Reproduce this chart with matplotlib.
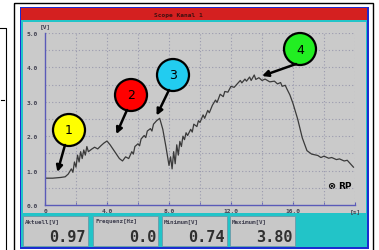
import matplotlib.pyplot as plt
from matplotlib.patches import Rectangle, Circle

# signal
t = [0.0, 0.5, 1.0, 1.3, 1.5, 1.7, 1.8, 1.9, 2.0, 2.1, 2.2, 2.3, 2.4, 2.5, 2.6, 2.7,
     2.8, 3.0, 3.2, 3.4, 3.6, 3.8, 4.0, 4.2, 4.5, 4.8, 5.0, 5.2, 5.4, 5.6, 5.7, 5.8,
     6.0, 6.1, 6.2, 6.4, 6.5, 6.6, 6.8, 6.9, 7.0, 7.2, 7.4, 7.6, 7.8, 8.0, 8.1, 8.2,
     8.3, 8.4, 8.5, 8.6, 8.7, 8.8, 8.9, 9.0, 9.1, 9.2, 9.4, 9.5, 9.6, 9.8, 9.9, 10.0,
     10.2, 10.3, 10.5, 10.6, 10.8, 11.0, 11.1, 11.3, 11.5, 11.6, 11.8, 12.0, 12.2,
     12.4, 12.6, 12.7, 12.9, 13.0, 13.2, 13.3, 13.5, 13.6, 13.8, 14.0, 14.2, 14.5,
     14.8, 15.0, 15.2, 15.3, 15.5, 15.6, 15.8, 16.0, 16.3, 16.6, 16.9, 17.2, 17.6,
     17.8, 18.0, 18.3, 18.5, 18.8, 19.0, 19.3, 19.5, 19.7, 19.9]
volt = [0.78, 0.78, 0.80, 0.82, 0.90, 1.05, 0.95, 1.25, 1.10, 1.45, 1.25, 1.55, 1.35, 1.60, 1.45, 1.70,
        1.55, 1.62, 1.68, 1.63, 1.72, 1.80, 1.86, 1.75, 1.55, 1.35, 1.28, 1.40, 1.35, 1.55, 1.48, 1.70,
        1.78, 1.72, 1.92, 2.02, 1.96, 2.15, 2.22, 2.15, 2.35, 2.45, 2.52, 2.20, 1.70, 1.15, 1.40, 1.05,
        1.55, 1.20, 1.75, 1.45, 1.85, 1.70, 2.00, 1.90, 2.10, 2.02, 2.20, 2.12, 2.35, 2.28, 2.45, 2.40,
        2.62, 2.52, 2.75, 2.68, 2.90, 3.05, 2.98, 3.22, 3.15, 3.30, 3.28, 3.45, 3.42,
        3.52, 3.62, 3.55, 3.66, 3.60, 3.72, 3.62, 3.78, 3.65, 3.70, 3.62, 3.66, 3.58,
        3.60, 3.52, 3.56, 3.45, 3.48, 3.38, 3.20, 2.95, 2.50, 1.95, 1.58, 1.48, 1.44,
        1.38, 1.42, 1.36, 1.38, 1.32, 1.34, 1.28, 1.30, 1.20, 1.10]

x_ticks = [0, 4, 8, 12, 16, 20]
x_labels = ['0', '4.0', '8.0', '12.0', '16.0', '[s]']
y_ticks = [0, 1, 2, 3, 4, 5]
y_labels = ['0.0', '1.0', '2.0', '3.0', '4.0', '5.0']

# callouts: number, colour, target (t, V)
call_num = ['1', '2', '3', '4']
call_col = ['#ffff00', '#ff0000', '#22ccf0', '#22ee22']
call_t = [0.8, 4.6, 7.2, 14.0]
call_v = [0.96, 2.06, 2.6, 3.75]
call_xy = [(69, 131), (131, 96), (173, 76), (300, 50)]

box_labels = ['Aktuell[V]', 'Frequenz[Hz]', 'Minimum[V]', 'Maximum[V]']
box_values = ['0.97', '0.0', '0.74', '3.80']
box_x = [23, 93, 162, 230]

W, H = 379, 251
fig = plt.figure(figsize=(W / 100, H / 100), dpi=100)
fig.patch.set_facecolor('white')

bg = fig.add_axes([0, 0, 1, 1], zorder=0)
bg.set_xlim(0, W)
bg.set_ylim(H, 0)
bg.axis('off')

# left neighbour frame
bg.plot([0, 6, 6], [29, 29, 251], color='black', lw=0.8)
bg.plot([1, 4], [101, 101], color='black', lw=0.8)

# window frame
bg.add_patch(Rectangle((14, 4), 359, 250, fill=False, ec='black', lw=1))
bg.add_patch(Rectangle((19.5, 8), 349, 242, fc='#1c2cd0', ec='none'))
bg.add_patch(Rectangle((21, 9), 346, 12, fc='#d42020', ec='none'))
bg.text(178, 15.5, 'Scope Kanal 1', fontsize=4.5, color='#401010', ha='center',
        va='center', family='DejaVu Sans Mono', fontweight='bold')
bg.add_patch(Rectangle((21, 21), 346, 227, fc='#22c4c8', ec='none'))
bg.add_patch(Rectangle((23, 23), 343, 191, fc='#cacaca', ec='none'))

# value boxes
for lab, val, bx in zip(box_labels, box_values, box_x):
    bg.add_patch(Rectangle((bx, 217), 65, 30, fc='#c8c8c8', ec='#6a9aa8', lw=0.6))
    bg.text(bx + 2, 222, lab, fontsize=4.2, color='#404050', va='center',
            family='DejaVu Sans Mono', fontweight='bold')
    bg.text(bx + 63, 238, val, fontsize=11, color='#303030', ha='right', va='center',
            family='DejaVu Sans Mono', fontweight='bold')

bg.text(40, 27, '[V]', fontsize=4.5, color='#404050', va='center',
        family='DejaVu Sans Mono', fontweight='bold')
bg.text(331, 186, '\u2297', fontsize=7, color='black', ha='center', va='center',
        fontweight='bold')
bg.text(345, 186.5, 'RP', fontsize=6.5, color='black', ha='center', va='center',
        fontweight='bold')

# scope plot
ax = fig.add_axes([45 / W, 45 / H, 310 / W, 172 / H], zorder=1)
ax.patch.set_alpha(0)
ax.set_xlim(0, 20)
ax.set_ylim(0, 5)
for s in ['top', 'right']:
    ax.spines[s].set_visible(False)
for s in ['left', 'bottom']:
    ax.spines[s].set_color('#5a5ab8')
    ax.spines[s].set_linewidth(1)
ax.vlines(range(2, 21, 2), 0, 5, colors='#9a9aae', linestyles=(0, (1, 2)), lw=0.8)
ax.hlines([i * 0.5 for i in range(1, 11)], 0, 20, colors='#9a9aae',
          linestyles=(0, (1, 2)), lw=0.8)
ax.set_xticks(x_ticks)
ax.set_xticklabels(x_labels)
ax.set_xticks(range(0, 21, 2), minor=True)
ax.set_yticks(y_ticks)
ax.set_yticklabels(y_labels)
ax.tick_params(axis='x', which='both', direction='in', length=2, color='#5a5ab8', pad=2)
ax.tick_params(axis='y', length=0, pad=5)
for lab in ax.get_xticklabels() + ax.get_yticklabels():
    lab.set_fontsize(4.5)
    lab.set_family('DejaVu Sans Mono')
    lab.set_fontweight('bold')
    lab.set_color('#404050')
ax.plot(t, volt, color='#3a3a3a', lw=0.9)

# callouts
top = fig.add_axes([0, 0, 1, 1], zorder=2)
top.set_xlim(0, W)
top.set_ylim(H, 0)
top.axis('off')
for num, col, ct, cv, (cx, cy) in zip(call_num, call_col, call_t, call_v, call_xy):
    top.annotate('', xy=(ct, cv), xycoords=ax.transData, xytext=(cx - 4, cy + 15),
                 textcoords=top.transData,
                 arrowprops=dict(arrowstyle='-|>', color='black', lw=1.8,
                                 mutation_scale=9, shrinkA=0, shrinkB=0))
    top.add_patch(Circle((cx, cy), 16, fc=col, ec='black', lw=1.6))
    top.text(cx, cy, num, fontsize=9, ha='center', va='center', color='black')

fig.savefig('out.png', dpi=100)
